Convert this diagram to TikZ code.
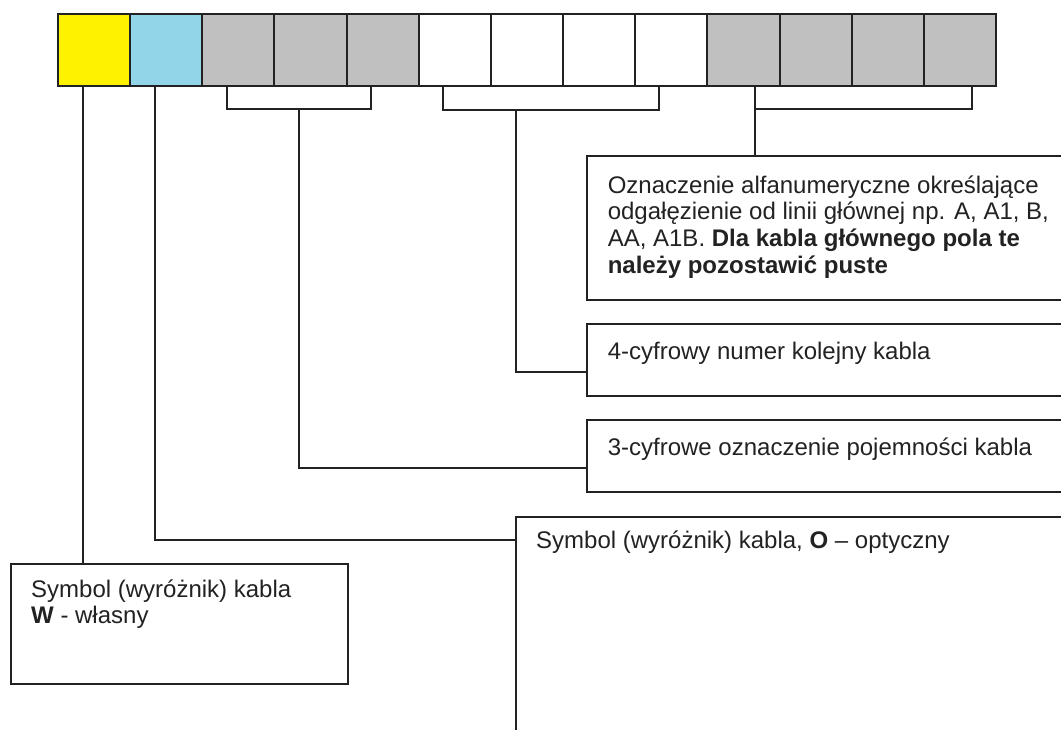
\documentclass[tikz,border=0pt]{standalone}
\usepackage{fontspec}
\setmainfont{Liberation Sans}
\usetikzlibrary{calc}
\definecolor{cyel}{HTML}{FFF200}
\definecolor{cblu}{HTML}{93D5E8}
\definecolor{cgry}{HTML}{C0C0C0}
\definecolor{cln}{HTML}{222222}
\definecolor{ctx}{HTML}{222222}
\begin{document}
\begin{tikzpicture}[x=0.75pt,y=-0.75pt,
  ln/.style={draw=cln,line width=1.5pt},
  cellbox/.style={draw=cln,line width=1.5pt,minimum width=54.11pt,minimum height=54pt,inner sep=0pt,outer sep=0pt},
  infobox/.style={draw=cln,line width=1.5pt,anchor=north west,inner sep=0pt,outer sep=0pt},
  txt/.style={anchor=base west,inner sep=0pt,outer sep=0pt,align=left,text=ctx,font=\fontsize{18pt}{20pt}\selectfont}]
\useasboundingbox (0,0) rectangle (1061,729);
\clip (0,0) rectangle (1061,729);
\fill[white] (0,0) rectangle (1061,729);
% cells
\foreach \i/\c in {1/cyel,2/cblu,3/cgry,4/cgry,5/cgry,6/white,7/white,8/white,9/white,10/cgry,11/cgry,12/cgry,13/cgry}{
  \node[cellbox,fill=\c] (c\i) at ({58+72.15*(\i-0.5)},50) {};
}
% boxes
\node[infobox,minimum width=373.3pt,minimum height=108pt] (ozn) at (587.3,156) {};
\node[infobox,minimum width=373.3pt,minimum height=53.8pt] (num) at (587.3,324.3) {};
\node[infobox,minimum width=373.3pt,minimum height=53.8pt] (poj) at (587.3,420.3) {};
\node[infobox,minimum width=427pt,minimum height=171.2pt] (opt) at (515.7,516.7) {};
\node[infobox,minimum width=252.75pt,minimum height=89.8pt] (wl) at (10.7,564.3) {};
% texts (base = baseline of the last line)
\node[txt] (tozn) at ($(ozn.north west)+(20.5,117.3)$) {Oznaczenie alfanumeryczne określające\\odgałęzienie od linii głównej np. A, A1, B,\\AA, A1B. \textbf{Dla kabla głównego pola te}\\\textbf{należy pozostawić puste}};
\node[txt] (tnum) at ($(num.north west)+(20.5,35)$) {4-cyfrowy numer kolejny kabla};
\node[txt] (tpoj) at ($(poj.north west)+(20.5,34.7)$) {3-cyfrowe oznaczenie pojemności kabla};
\node[txt] (topt) at ($(opt.north west)+(20.5,31.6)$) {Symbol (wyróżnik) kabla, \textbf{O} – optyczny};
\node[txt] (twl) at ($(wl.north west)+(20.5,59.5)$) {Symbol (wyróżnik) kabla\\\textbf{W} - własny};
% bracket points
\coordinate (s1) at ($(c1.south west)+(24.7,0)$);
\coordinate (s2) at ($(c2.south west)+(24.8,0)$);
\coordinate (b1a) at ($(c3.south west)+(24.7,0)$);
\coordinate (b1b) at ($(c5.south west)+(24.4,0)$);
\coordinate (b1m) at (299.3,108.5);
\coordinate (b2a) at ($(c6.south west)+(24.5,0)$);
\coordinate (b2b) at ($(c9.south west)+(24,0)$);
\coordinate (b2m) at (515.5,109.5);
\coordinate (b3a) at ($(c10.south west)+(48,0)$);
\coordinate (b3b) at ($(c13.south west)+(48,0)$);
\coordinate (b3m) at ($(b3a)+(0,23)$);
% brackets
\draw[ln] (b1a) |- (b1m) -| (b1b);
\draw[ln] (b2a) |- (b2m) -| (b2b);
\draw[ln] (b3a) |- (b3m) -| (b3b);
% connectors
\draw[ln] (s1) -- (s1 |- wl.north);
\draw[ln] (s2) |- ($(opt.north west)+(0,23.6)$);
\draw[ln] (b1m) |- ($(poj.north west)+(0,48)$);
\draw[ln] (b2m) |- ($(num.north west)+(0,47.4)$);
\draw[ln] (b3m) -- (b3m |- ozn.north);
\end{tikzpicture}
\end{document}
